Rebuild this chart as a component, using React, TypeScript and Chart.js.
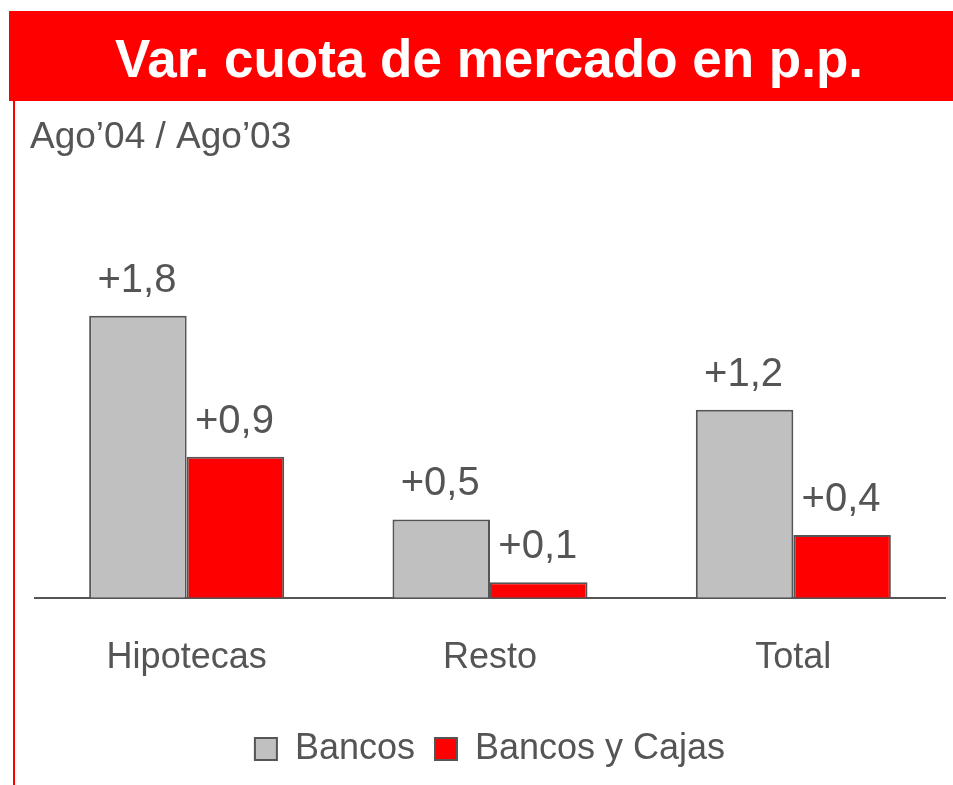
import React, { useEffect, useRef } from "react";
import { Chart, registerables } from "chart.js";

Chart.register(...registerables);

const categories = ["Hipotecas", "Resto", "Total"];
const bancos = [1.8, 0.5, 1.2];
const bancosYCajas = [0.9, 0.1, 0.4];
const seriesNames = ["Bancos", "Bancos y Cajas"];
const titleText = "Var. cuota de mercado en p.p.";
const subtitleText = "Ago\u201904 / Ago\u201903";

const FONT = '"Liberation Sans", Arial, Helvetica, sans-serif';
const TEXT = "#555555";
const RED = "#ff0000";
const GREY = "#c0c0c0";

const fmt = (v: number) => "+" + v.toFixed(1).replace(".", ",");

const decorPlugin = {
  id: "decor",
  beforeDraw(chart: any) {
    const ctx = chart.ctx;
    ctx.save();
    ctx.fillStyle = "#ffffff";
    ctx.fillRect(0, 0, chart.width, chart.height);
    // title band
    ctx.fillStyle = RED;
    ctx.fillRect(9, 11, chart.width - 9, 90);
    ctx.fillStyle = "#ffffff";
    ctx.font = `bold 53px ${FONT}`;
    ctx.textAlign = "center";
    ctx.textBaseline = "alphabetic";
    ctx.fillText(titleText, 489, 77);
    // red vertical line
    ctx.fillStyle = RED;
    ctx.fillRect(13, 101, 2, chart.height - 101);
    // subtitle
    ctx.fillStyle = TEXT;
    ctx.font = `37px ${FONT}`;
    ctx.textAlign = "left";
    ctx.fillText(subtitleText, 30, 148);
    ctx.restore();
  },
  afterDatasetsDraw(chart: any) {
    const ctx = chart.ctx;
    ctx.save();
    ctx.fillStyle = TEXT;
    ctx.font = `40px ${FONT}`;
    ctx.textAlign = "center";
    ctx.textBaseline = "alphabetic";
    chart.data.datasets.forEach((ds: any, di: number) => {
      const meta = chart.getDatasetMeta(di);
      meta.data.forEach((bar: any, i: number) => {
        ctx.fillText(fmt(ds.data[i]), bar.x - 1, bar.y - 24);
      });
    });
    ctx.restore();
  },
};

export default function App() {
  const ref = useRef<HTMLCanvasElement | null>(null);
  useEffect(() => {
    document.body.style.margin = "0";
    if (!ref.current) return;
    const chart = new Chart(ref.current, {
      type: "bar",
      data: {
        labels: categories,
        datasets: [
          {
            label: seriesNames[0],
            data: bancos,
            backgroundColor: GREY,
            borderColor: TEXT,
            borderWidth: 2,
          },
          {
            label: seriesNames[1],
            data: bancosYCajas,
            backgroundColor: RED,
            borderColor: TEXT,
            borderWidth: 2,
          },
        ],
      },
      options: {
        animation: false,
        responsive: false,
        maintainAspectRatio: false,
        layout: { padding: { left: 35, right: 8, top: 206, bottom: 8 } },
        datasets: {
          bar: { categoryPercentage: 0.643, barPercentage: 1.0 },
        },
        plugins: {
          title: { display: false },
          tooltip: { enabled: false },
          legend: {
            position: "bottom",
            labels: {
              font: { family: FONT, size: 36 },
              color: TEXT,
              boxWidth: 22,
              boxHeight: 22,
              padding: 20,
            },
          },
        },
        scales: {
          x: {
            grid: { display: false },
            border: { display: true, color: TEXT, width: 2 },
            ticks: {
              font: { family: FONT, size: 36 },
              color: TEXT,
              padding: 31,
            },
          },
          y: {
            display: false,
            min: 0,
            max: 2.5,
          },
        },
      },
      plugins: [decorPlugin],
    });
    return () => chart.destroy();
  }, []);
  return (
    <div style={{ width: 953, height: 785, position: "relative" }}>
      <canvas ref={ref} width={953} height={785} style={{ display: "block" }} />
    </div>
  );
}
